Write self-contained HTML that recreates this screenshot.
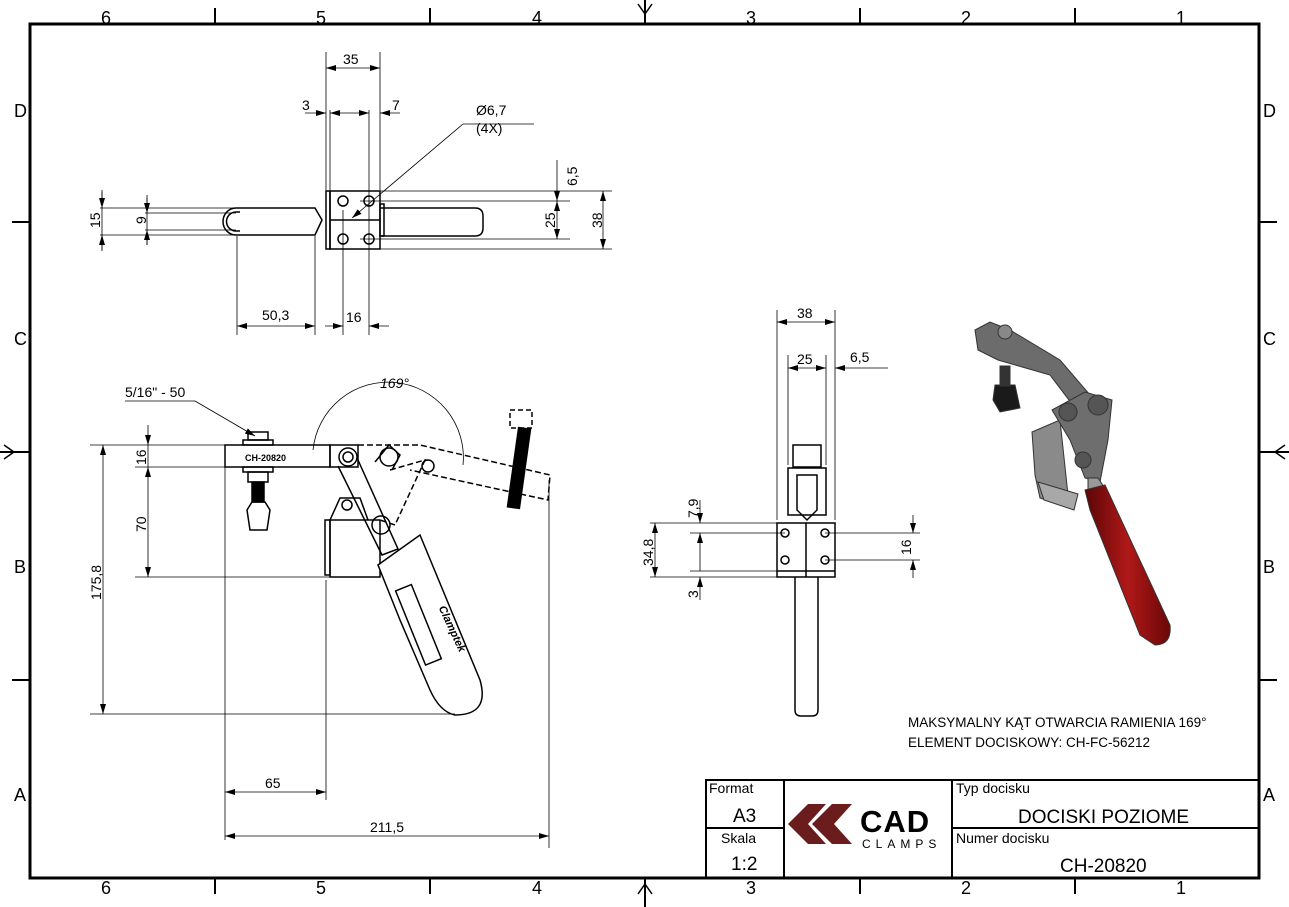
<!DOCTYPE html>
<html><head><meta charset="utf-8"><style>
html,body{margin:0;padding:0;background:#fff;}
svg{display:block;font-family:"Liberation Sans",sans-serif;}
text{fill:#000;}
</style></head><body>
<svg width="1289" height="907" viewBox="0 0 1289 907" xmlns="http://www.w3.org/2000/svg">
<defs>
<marker id="a" markerWidth="10" markerHeight="6" refX="10" refY="3" orient="auto-start-reverse" markerUnits="userSpaceOnUse"><path d="M0,0 L10,3 L0,6 z" fill="#000"/></marker>
<linearGradient id="red" x1="0" x2="1"><stop offset="0" stop-color="#5a0606"/><stop offset=".5" stop-color="#b01818"/><stop offset="1" stop-color="#6a0808"/></linearGradient>
</defs>
<!-- frame -->
<rect x="30" y="24" width="1229" height="854" fill="none" stroke="#000" stroke-width="3"/>
<g stroke="#000" stroke-width="2">
<line x1="215" y1="8" x2="215" y2="24"/><line x1="430" y1="8" x2="430" y2="24"/><line x1="860" y1="8" x2="860" y2="24"/><line x1="1075" y1="8" x2="1075" y2="24"/>
<line x1="215" y1="878" x2="215" y2="894"/><line x1="430" y1="878" x2="430" y2="894"/><line x1="860" y1="878" x2="860" y2="894"/><line x1="1075" y1="878" x2="1075" y2="894"/>
<line x1="12" y1="222" x2="30" y2="222"/><line x1="12" y1="680" x2="30" y2="680"/>
<line x1="1259" y1="222" x2="1277" y2="222"/><line x1="1259" y1="680" x2="1277" y2="680"/>
<line x1="645" y1="0" x2="645" y2="24"/><line x1="645" y1="878" x2="645" y2="907"/>
<line x1="0" y1="452" x2="30" y2="452"/><line x1="1259" y1="452" x2="1289" y2="452"/>
</g>
<g fill="none" stroke="#000" stroke-width="1.5">
<path d="M638,4 L645,14 L652,4"/><path d="M638,894 L645,884 L652,894"/>
<path d="M4,445 L14,452 L4,459"/><path d="M1285,445 L1275,452 L1285,459"/>
</g>
<g font-size="18">
<text x="101" y="24">6</text><text x="316" y="24">5</text><text x="532" y="24">4</text><text x="746" y="24">3</text><text x="961" y="24">2</text><text x="1176" y="24">1</text>
<text x="101" y="894">6</text><text x="316" y="894">5</text><text x="532" y="894">4</text><text x="746" y="894">3</text><text x="961" y="894">2</text><text x="1176" y="894">1</text>
<text x="14" y="117">D</text><text x="14" y="345">C</text><text x="14" y="573">B</text><text x="14" y="801">A</text>
<text x="1263" y="117">D</text><text x="1263" y="345">C</text><text x="1263" y="573">B</text><text x="1263" y="801">A</text>
</g>

<!-- TOP VIEW -->
<g fill="none" stroke="#000" stroke-width="1.5">
<rect x="326" y="191" width="4" height="58"/>
<rect x="330" y="191" width="50" height="58"/>
<line x1="330" y1="220" x2="380" y2="220"/>
<circle cx="343" cy="201" r="5"/><circle cx="369" cy="201" r="5"/><circle cx="343" cy="239" r="5"/><circle cx="369" cy="239" r="5"/>
<path d="M380,208 L475,208 Q483,208 483,216 L483,228 Q483,236 475,236 L380,236"/>
<rect x="380" y="204" width="4" height="32"/>
<path d="M236,208 L315,208 L322,220 L315,235 L236,235 A13,13.5 0 0 1 236,208"/>
<path d="M240,212 L236,212 A8,8 0 0 0 236,231 L240,231"/>
</g>
<g stroke="#000" stroke-width="0.8" fill="none">
<line x1="326" y1="52" x2="326" y2="190"/><line x1="380" y1="52" x2="380" y2="190"/>
<line x1="326" y1="68" x2="380" y2="68" marker-start="url(#a)" marker-end="url(#a)"/>
<line x1="330" y1="110" x2="330" y2="190"/><line x1="369" y1="110" x2="369" y2="335"/><line x1="343" y1="210" x2="343" y2="335"/>
<line x1="305" y1="113" x2="326" y2="113" marker-end="url(#a)"/><line x1="330" y1="113" x2="369" y2="113" marker-start="url(#a)" marker-end="url(#a)"/><line x1="400" y1="113" x2="380" y2="113" marker-end="url(#a)"/>
<line x1="463" y1="124" x2="534" y2="124"/><line x1="463" y1="124" x2="352" y2="218" marker-end="url(#a)"/>
<line x1="380" y1="191" x2="612" y2="191"/><line x1="380" y1="249" x2="612" y2="249"/>
<line x1="360" y1="201" x2="570" y2="201"/><line x1="360" y1="239" x2="570" y2="239"/>
<line x1="557" y1="160" x2="557" y2="201" marker-end="url(#a)"/><line x1="557" y1="201" x2="557" y2="239" marker-start="url(#a)" marker-end="url(#a)"/>
<line x1="603" y1="191" x2="603" y2="249" marker-start="url(#a)" marker-end="url(#a)"/>
<line x1="100" y1="208" x2="236" y2="208"/><line x1="100" y1="235" x2="236" y2="235"/>
<line x1="145" y1="213" x2="236" y2="213"/><line x1="145" y1="230" x2="236" y2="230"/>
<line x1="102" y1="190" x2="102" y2="250"/><line x1="147" y1="195" x2="147" y2="245"/>
<line x1="102" y1="192" x2="102" y2="208" marker-end="url(#a)"/><line x1="102" y1="251" x2="102" y2="235" marker-end="url(#a)"/>
<line x1="147" y1="198" x2="147" y2="213" marker-end="url(#a)"/><line x1="147" y1="245" x2="147" y2="230" marker-end="url(#a)"/>
<line x1="237" y1="236" x2="237" y2="335"/><line x1="315" y1="236" x2="315" y2="335"/>
<line x1="237" y1="326" x2="315" y2="326" marker-start="url(#a)" marker-end="url(#a)"/>
<line x1="325" y1="326" x2="343" y2="326" marker-end="url(#a)"/><line x1="389" y1="326" x2="369" y2="326" marker-end="url(#a)"/>
</g>
<g font-size="14">
<text x="343" y="64">35</text><text x="302" y="110">3</text><text x="392" y="110">7</text>
<text x="476" y="115">Ø6,7</text><text x="476" y="133">(4X)</text>
<text x="262" y="320">50,3</text><text x="346" y="322">16</text>
<text transform="translate(577,186) rotate(-90)">6,5</text>
<text transform="translate(555,228) rotate(-90)">25</text>
<text transform="translate(602,228) rotate(-90)">38</text>
<text transform="translate(100,228) rotate(-90)">15</text>
<text transform="translate(146,224) rotate(-90)">9</text>
</g>

<!-- SIDE VIEW -->
<g fill="none" stroke="#000" stroke-width="1.5">
<rect x="225" y="445" width="105" height="22"/>
<rect x="330" y="445" width="28" height="22"/>
<rect x="243" y="440" width="30" height="5"/><rect x="248" y="432" width="20" height="8"/>
<rect x="243" y="467" width="30" height="5"/><rect x="248" y="472" width="20" height="10"/>
<rect x="252" y="482" width="12" height="20" fill="#000"/>
<path d="M247,510 L252,502 L265,502 L270,510 L267,530 L250,530 Z"/>
<rect x="325" y="520" width="5" height="55"/><rect x="330" y="520" width="50" height="57"/>
<path d="M330,520 L340,498 L360,498 L368,520"/>
<circle cx="348" cy="457" r="9"/><circle cx="348" cy="457" r="5"/>
<circle cx="389" cy="457" r="9"/>
<circle cx="381" cy="525" r="9"/><circle cx="347" cy="505" r="5"/>
<path d="M338,466 L382,555 L398,549 L358,460"/>
<path d="M375,462 L389,445 L400,455 L392,470"/>
<path d="M378,565 L420,535 L480,680 Q490,715 455,715 Q440,712 430,690 L400,620 Z" fill="#fff"/>
<rect x="410" y="585" width="17" height="80" transform="rotate(-22 418 625)"/>
<path d="M358,445 L420,445 L550,475 L548,500 L410,470" stroke-dasharray="6,3"/>
<path d="M390,470 L425,460 L395,525 L380,520" stroke-dasharray="6,3"/>
<circle cx="428" cy="466" r="6"/>
<rect x="510" y="410" width="22" height="18" stroke-dasharray="5,3"/>
<rect x="513" y="428" width="12" height="80" fill="#000" transform="rotate(8 519 468)"/>
</g>
<text x="245" y="461" font-size="9" font-weight="bold">CH-20820</text>
<text x="418" y="610" font-size="11" font-weight="bold" font-style="italic" transform="rotate(65 430 625)">Clamptek</text>
<g stroke="#000" stroke-width="0.8" fill="none">
<path d="M313,450 A75,75 0 0 1 463,465"/>
<line x1="90" y1="445" x2="225" y2="445"/><line x1="135" y1="467" x2="225" y2="467"/>
<line x1="135" y1="577" x2="330" y2="577"/><line x1="90" y1="714" x2="455" y2="714"/>
<line x1="148" y1="425" x2="148" y2="445" marker-end="url(#a)"/><line x1="148" y1="445" x2="148" y2="467"/>
<line x1="148" y1="467" x2="148" y2="577" marker-start="url(#a)" marker-end="url(#a)"/>
<line x1="103" y1="445" x2="103" y2="714" marker-start="url(#a)" marker-end="url(#a)"/>
<line x1="225" y1="467" x2="225" y2="840"/><line x1="326" y1="580" x2="326" y2="800"/><line x1="549" y1="480" x2="549" y2="848"/>
<line x1="225" y1="792" x2="326" y2="792" marker-start="url(#a)" marker-end="url(#a)"/>
<line x1="225" y1="836" x2="549" y2="836" marker-start="url(#a)" marker-end="url(#a)"/>
<line x1="125" y1="401" x2="195" y2="401"/><line x1="195" y1="401" x2="255" y2="436" marker-end="url(#a)"/>
</g>
<g font-size="14">
<text x="125" y="397">5/16" - 50</text><text x="380" y="388" font-style="italic">169°</text>
<text x="265" y="788">65</text><text x="370" y="832">211,5</text>
<text transform="translate(146,465) rotate(-90)">16</text>
<text transform="translate(146,532) rotate(-90)">70</text>
<text transform="translate(101,600) rotate(-90)">175,8</text>
</g>

<!-- FRONT VIEW -->
<g fill="none" stroke="#000" stroke-width="1.5">
<rect x="777" y="523" width="58" height="54"/><line x1="806" y1="523" x2="806" y2="577"/>
<line x1="777" y1="571" x2="835" y2="571"/>
<circle cx="785" cy="533" r="4"/><circle cx="825" cy="533" r="4"/><circle cx="785" cy="560" r="4"/><circle cx="825" cy="560" r="4"/>
<rect x="793" y="445" width="28" height="22"/>
<path d="M788,468 L826,468 L826,515 L788,515 Z"/>
<path d="M797,475 L817,475 L817,510 L807,520 L797,510 Z"/>
<path d="M795,577 L795,710 Q795,716 801,716 L812,716 Q818,716 818,710 L818,577"/>
</g>
<g stroke="#000" stroke-width="0.8" fill="none">
<line x1="777" y1="310" x2="777" y2="520"/><line x1="835" y1="310" x2="835" y2="520"/>
<line x1="777" y1="322" x2="835" y2="322" marker-start="url(#a)" marker-end="url(#a)"/>
<line x1="788" y1="355" x2="788" y2="465"/><line x1="826" y1="355" x2="826" y2="465"/>
<line x1="788" y1="368" x2="826" y2="368" marker-start="url(#a)" marker-end="url(#a)"/>
<line x1="888" y1="368" x2="835" y2="368" marker-end="url(#a)"/>
<line x1="650" y1="523" x2="777" y2="523"/><line x1="690" y1="533" x2="785" y2="533"/><line x1="650" y1="577" x2="777" y2="577"/><line x1="690" y1="571" x2="777" y2="571"/>
<line x1="655" y1="523" x2="655" y2="577" marker-start="url(#a)" marker-end="url(#a)"/>
<line x1="700" y1="500" x2="700" y2="523" marker-end="url(#a)"/><line x1="700" y1="533" x2="700" y2="571" marker-start="url(#a)"/><line x1="700" y1="600" x2="700" y2="577" marker-end="url(#a)"/>
<line x1="825" y1="533" x2="920" y2="533"/><line x1="825" y1="560" x2="920" y2="560"/>
<line x1="913" y1="515" x2="913" y2="533" marker-end="url(#a)"/><line x1="913" y1="578" x2="913" y2="560" marker-end="url(#a)"/>
</g>
<g font-size="14">
<text x="797" y="318">38</text><text x="797" y="364">25</text><text x="850" y="362">6,5</text>
<text transform="translate(653,566) rotate(-90)">34,8</text>
<text transform="translate(698,518) rotate(-90)">7,9</text>
<text transform="translate(698,598) rotate(-90)">3</text>
<text transform="translate(911,555) rotate(-90)">16</text>
</g>

<!-- ISO render -->
<g stroke="#333" stroke-width="1">
<path d="M1032,432 L1060,420 L1068,495 L1060,505 L1040,498 L1035,475 Z" fill="#8a8a8a"/>
<path d="M1038,482 L1078,494 L1074,510 L1044,500 Z" fill="#a8a8a8"/>
<path d="M975,330 L990,322 L1010,330 L1060,360 L1090,395 L1075,408 L1050,375 L998,360 L978,350 Z" fill="#6c6c6c"/>
<circle cx="1005" cy="332" r="7" fill="#888"/>
<path d="M995,385 L1015,385 L1020,408 L1000,412 L993,400 Z" fill="#1a1a1a"/>
<rect x="1000" y="366" width="10" height="20" fill="#333"/>
<path d="M1052,410 L1085,392 L1112,400 L1108,440 L1100,482 L1085,478 L1070,440 Z" fill="#6e6e6e"/>
<circle cx="1068" cy="412" r="9" fill="#555"/><circle cx="1098" cy="405" r="10" fill="#555"/><circle cx="1083" cy="460" r="8" fill="#555"/>
<path d="M1088,478 L1098,478 L1106,490 L1088,492 Z" fill="#999"/>
<path d="M1085,490 L1105,485 L1170,625 Q1172,645 1155,645 L1140,635 L1090,510 Z" fill="url(#red)"/>
</g>

<g font-size="13.5">
<text x="908" y="727">MAKSYMALNY KĄT OTWARCIA RAMIENIA 169°</text>
<text x="908" y="747">ELEMENT DOCISKOWY: CH-FC-56212</text>
</g>

<!-- title block -->
<g fill="none" stroke="#000" stroke-width="2">
<rect x="706" y="780" width="553" height="98"/>
<line x1="784" y1="780" x2="784" y2="878"/><line x1="952" y1="780" x2="952" y2="878"/>
<line x1="706" y1="828" x2="784" y2="828"/><line x1="952" y1="828" x2="1259" y2="828"/>
</g>
<g font-size="14">
<text x="709" y="793">Format</text><text x="733" y="822" font-size="19">A3</text>
<text x="721" y="843">Skala</text><text x="731" y="870" font-size="19">1:2</text>
<text x="956" y="793">Typ docisku</text><text x="1018" y="823" font-size="19">DOCISKI POZIOME</text>
<text x="956" y="843">Numer docisku</text><text x="1060" y="872" font-size="19">CH-20820</text>
</g>
<g fill="#6b1d1d">
<path d="M788,824 L808,804 L826,804 L808,824 L826,844 L808,844 Z"/>
<path d="M812,824 L832,804 L852,804 L834,824 L852,844 L832,844 Z"/>
</g>
<text x="860" y="832" font-size="31" font-weight="bold" letter-spacing="1">CAD</text>
<text x="862" y="848" font-size="12" letter-spacing="5">CLAMPS</text>
</svg>
</body></html>
